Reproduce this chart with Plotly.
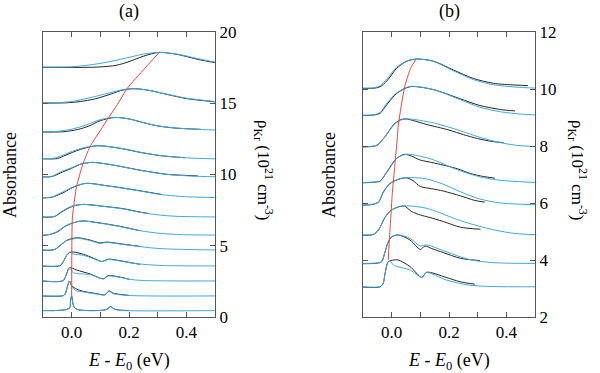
import plotly.graph_objects as go

# ---------------- panel (a): offset spectra, plotted on the rho_Kr scale ----------------
# each curve: (E values, y values), blue = model, black = measured
a_blue = [
    ([-0.1, -0.008, -0.004, 0.0, 0.003, 0.009, 0.023, 0.11, 0.125, 0.136, 0.148, 0.17, 0.5],
     [0.45, 0.61, 1.2, 1.48, 1.08, 0.68, 0.5, 0.47, 0.56, 0.73, 0.56, 0.47, 0.45]),
    ([-0.1, -0.03, -0.023, -0.015, -0.008, 0.0, 0.012, 0.041, 0.087, 0.116, 0.13, 0.145, 0.2, 0.5],
     [1.48, 1.5, 1.6, 2.13, 2.53, 2.15, 1.88, 1.76, 1.61, 1.55, 1.8, 1.64, 1.51, 1.48]),
    ([-0.1, -0.03, -0.017, -0.008, 0.006, 0.064, 0.11, 0.128, 0.169, 0.2, 0.25, 0.5],
     [2.53, 2.56, 3.07, 3.46, 3.11, 2.98, 2.67, 2.88, 2.78, 2.65, 2.56, 2.53]),
    ([-0.1, -0.04, -0.027, -0.017, -0.006, 0.006, 0.041, 0.075, 0.105, 0.128, 0.169, 0.215, 0.26, 0.32, 0.5],
     [3.58, 3.62, 3.97, 4.35, 4.54, 4.42, 4.33, 4.1, 3.89, 4.03, 3.93, 3.77, 3.68, 3.61, 3.58]),
    ([-0.1, -0.06, -0.035, -0.017, 0.0, 0.023, 0.064, 0.099, 0.122, 0.169, 0.238, 0.308, 0.5],
     [4.7, 4.74, 5.13, 5.36, 5.45, 5.53, 5.36, 5.17, 5.23, 5.12, 4.94, 4.8, 4.7]),
    ([-0.1, -0.076, -0.047, -0.023, 0.0, 0.035, 0.099, 0.169, 0.238, 0.308, 0.4, 0.5],
     [5.74, 5.8, 6.04, 6.39, 6.58, 6.74, 6.58, 6.34, 6.06, 5.87, 5.77, 5.75]),
    ([-0.1, -0.06, -0.04, -0.017, 0.006, 0.04, 0.12, 0.18, 0.24, 0.3, 0.36, 0.5],
     [7.02, 7.06, 7.34, 7.62, 7.81, 7.9, 7.74, 7.58, 7.34, 7.17, 7.07, 7.02]),
    ([-0.1, -0.07, -0.03, 0.005, 0.05, 0.12, 0.18, 0.24, 0.31, 0.38, 0.5],
     [8.37, 8.42, 8.78, 9.13, 9.38, 9.21, 9.03, 8.84, 8.6, 8.46, 8.38]),
    ([-0.1, -0.07, -0.04, 0.0, 0.03, 0.07, 0.14, 0.24, 0.33, 0.42, 0.5],
     [9.84, 9.87, 10.17, 10.48, 10.72, 10.85, 10.68, 10.29, 10.01, 9.89, 9.84]),
    ([-0.1, -0.06, -0.02, 0.03, 0.09, 0.17, 0.24, 0.31, 0.4, 0.5],
     [11.12, 11.15, 11.45, 11.82, 12.02, 11.84, 11.56, 11.33, 11.17, 11.1]),
    ([-0.1, -0.05, 0.0, 0.05, 0.1, 0.15, 0.2, 0.25, 0.3, 0.36, 0.43, 0.5],
     [13.0, 13.03, 13.18, 13.47, 13.85, 14.01, 13.9, 13.65, 13.42, 13.27, 13.18, 13.12]),
    ([-0.1, -0.04, 0.0, 0.06, 0.12, 0.17, 0.21, 0.26, 0.33, 0.4, 0.5],
     [15.03, 15.05, 15.12, 15.37, 15.67, 15.92, 16.02, 15.94, 15.65, 15.36, 15.12]),
    ([-0.1, 0.0, 0.06, 0.12, 0.19, 0.25, 0.306, 0.37, 0.44, 0.5],
     [17.54, 17.56, 17.68, 17.87, 18.17, 18.45, 18.57, 18.44, 18.13, 17.89]),
]
a_black = [
    ([-0.1, -0.008, -0.004, 0.0, 0.003, 0.009, 0.023, 0.11, 0.125, 0.136, 0.148, 0.17, 0.2],
     [0.45, 0.61, 1.2, 1.48, 1.08, 0.68, 0.51, 0.48, 0.57, 0.74, 0.57, 0.48, 0.46]),
    ([-0.1, -0.03, -0.023, -0.015, -0.008, 0.0, 0.017, 0.041, 0.087, 0.116, 0.13, 0.145, 0.2],
     [1.47, 1.49, 1.6, 2.13, 2.53, 2.2, 1.96, 1.8, 1.64, 1.56, 1.83, 1.67, 1.52]),
    ([-0.1, -0.03, -0.017, -0.008, 0.017, 0.064, 0.11, 0.128, 0.169, 0.2],
     [2.52, 2.55, 3.07, 3.46, 3.3, 3.02, 2.68, 2.9, 2.8, 2.65]),
    ([-0.1, -0.04, -0.027, -0.017, -0.006, 0.006, 0.041, 0.075, 0.105, 0.128, 0.169, 0.215, 0.238],
     [3.57, 3.61, 3.97, 4.35, 4.54, 4.56, 4.4, 4.14, 3.9, 4.06, 3.95, 3.78, 3.7]),
    ([-0.1, -0.06, -0.035, -0.017, 0.0, 0.023, 0.064, 0.099, 0.122, 0.169, 0.24],
     [4.69, 4.73, 5.1, 5.38, 5.5, 5.56, 5.4, 5.2, 5.26, 5.14, 4.95]),
    ([-0.1, -0.076, -0.047, -0.023, 0.0, 0.035, 0.099, 0.169, 0.238],
     [5.73, 5.79, 6.0, 6.36, 6.57, 6.74, 6.6, 6.36, 6.06]),
    ([-0.1, -0.06, -0.04, -0.017, 0.006, 0.04, 0.12, 0.18, 0.24, 0.27],
     [7.01, 7.05, 7.3, 7.58, 7.79, 7.9, 7.75, 7.6, 7.36, 7.26]),
    ([-0.1, -0.07, -0.03, 0.005, 0.05, 0.12, 0.18, 0.24, 0.314],
     [8.36, 8.4, 8.72, 9.1, 9.38, 9.22, 9.05, 8.85, 8.6]),
    ([-0.1, -0.07, -0.04, 0.0, 0.03, 0.07, 0.14, 0.24, 0.33, 0.44],
     [9.83, 9.85, 10.1, 10.44, 10.71, 10.85, 10.68, 10.3, 10.02, 9.9]),
    ([-0.1, -0.05, -0.02, 0.03, 0.09, 0.17, 0.24, 0.31, 0.395],
     [11.1, 11.12, 11.36, 11.76, 12.02, 11.83, 11.55, 11.32, 11.18]),
    ([-0.1, -0.03, 0.02, 0.06, 0.1, 0.15, 0.2, 0.25, 0.3, 0.36, 0.45],
     [12.98, 13.0, 13.15, 13.4, 13.78, 14.0, 13.9, 13.64, 13.41, 13.26, 13.17]),
    ([-0.1, -0.02, 0.03, 0.08, 0.13, 0.17, 0.21, 0.26, 0.33, 0.4, 0.5],
     [15.01, 15.03, 15.12, 15.3, 15.6, 15.88, 16.02, 15.94, 15.63, 15.33, 15.1]),
    ([-0.1, 0.06, 0.1, 0.155, 0.2, 0.25, 0.306, 0.37, 0.44, 0.5],
     [17.52, 17.52, 17.55, 17.66, 17.92, 18.3, 18.57, 18.42, 18.08, 17.85]),
]
a_red_E = [0.0, 0.002, 0.006, 0.017, 0.038, 0.064, 0.11, 0.128, 0.163, 0.192, 0.256, 0.306]
a_red_rho = [1.48, 6.8, 7.62, 9.14, 10.66, 11.95, 13.4, 13.96, 15.02, 16.0, 17.47, 18.57]

# ---------------- panel (b) ----------------
b_blue = [
    ([-0.1, -0.04, -0.029, -0.023, -0.012, -0.004, 0.006, 0.064, 0.105, 0.122, 0.19, 0.27, 0.35, 0.5],
     [3.06, 3.07, 3.2, 3.53, 3.94, 3.96, 3.82, 3.65, 3.39, 3.56, 3.3, 3.12, 3.07, 3.06]),
    ([-0.1, -0.05, -0.035, -0.023, -0.012, 0.0, 0.023, 0.064, 0.1, 0.122, 0.19, 0.27, 0.35, 0.5],
     [3.88, 3.9, 3.95, 4.29, 4.64, 4.82, 4.88, 4.76, 4.49, 4.53, 4.29, 4.02, 3.91, 3.88]),
    ([-0.1, -0.065, -0.046, -0.023, 0.0, 0.03, 0.06, 0.12, 0.17, 0.2, 0.24, 0.3, 0.36, 0.43, 0.5],
     [4.88, 4.9, 5.05, 5.5, 5.75, 5.88, 5.9, 5.82, 5.65, 5.53, 5.38, 5.2, 5.05, 4.93, 4.89]),
    ([-0.1, -0.065, -0.045, -0.029, -0.006, 0.03, 0.07, 0.12, 0.18, 0.238, 0.308, 0.38, 0.5],
     [5.94, 5.96, 6.05, 6.4, 6.69, 6.86, 6.89, 6.85, 6.66, 6.4, 6.14, 6.0, 5.94]),
    ([-0.1, -0.06, -0.04, -0.017, 0.017, 0.052, 0.1, 0.15, 0.215, 0.26, 0.308, 0.36, 0.41, 0.5],
     [6.72, 6.74, 6.78, 7.1, 7.57, 7.71, 7.64, 7.5, 7.22, 7.06, 6.92, 6.82, 6.77, 6.72]),
    ([-0.1, -0.07, -0.05, -0.023, 0.006, 0.03, 0.055, 0.1, 0.15, 0.2, 0.25, 0.3, 0.36, 0.43, 0.5],
     [7.98, 7.99, 8.04, 8.33, 8.72, 8.9, 8.95, 8.9, 8.8, 8.66, 8.5, 8.33, 8.16, 8.03, 7.98]),
    ([-0.1, -0.06, -0.04, -0.017, 0.017, 0.064, 0.145, 0.238, 0.308, 0.38, 0.45, 0.5],
     [9.08, 9.1, 9.18, 9.5, 9.86, 10.09, 9.98, 9.63, 9.36, 9.2, 9.12, 9.09]),
    ([-0.1, -0.06, -0.04, -0.017, 0.017, 0.052, 0.087, 0.145, 0.215, 0.285, 0.355, 0.43, 0.5],
     [10.03, 10.05, 10.12, 10.35, 10.76, 10.98, 11.05, 10.97, 10.64, 10.33, 10.15, 10.07, 10.03]),
]
b_black = [
    ([-0.1, -0.04, -0.029, -0.023, -0.012, 0.006, 0.023, 0.064, 0.105, 0.122, 0.19, 0.238, 0.29],
     [3.05, 3.06, 3.2, 3.53, 3.94, 4.0, 4.0, 3.77, 3.39, 3.57, 3.39, 3.24, 3.15]),
    ([-0.1, -0.05, -0.035, -0.023, -0.012, 0.0, 0.023, 0.064, 0.1, 0.116, 0.14, 0.18, 0.24, 0.308],
     [3.87, 3.89, 3.94, 4.28, 4.63, 4.81, 4.88, 4.7, 4.37, 4.49, 4.4, 4.26, 4.06, 3.98]),
    ([-0.1, -0.065, -0.046, -0.023, 0.0, 0.03, 0.045, 0.07, 0.1, 0.13, 0.18, 0.24, 0.31],
     [4.87, 4.89, 5.05, 5.5, 5.76, 5.88, 5.89, 5.7, 5.58, 5.5, 5.35, 5.15, 5.08]),
    ([-0.1, -0.065, -0.045, -0.029, -0.006, 0.03, 0.052, 0.075, 0.1, 0.14, 0.18, 0.24, 0.29, 0.325],
     [5.93, 5.95, 6.04, 6.38, 6.68, 6.85, 6.88, 6.78, 6.58, 6.5, 6.42, 6.25, 6.09, 6.03]),
    ([-0.1, -0.06, -0.04, -0.017, 0.017, 0.045, 0.07, 0.099, 0.14, 0.18, 0.23, 0.273, 0.32, 0.36],
     [6.71, 6.73, 6.77, 7.08, 7.56, 7.71, 7.64, 7.51, 7.42, 7.33, 7.2, 7.04, 6.93, 6.87]),
    ([-0.1, -0.07, -0.05, -0.023, 0.006, 0.03, 0.05, 0.08, 0.12, 0.2, 0.25, 0.3, 0.35, 0.39],
     [7.97, 7.98, 8.03, 8.33, 8.74, 8.92, 8.95, 8.88, 8.76, 8.56, 8.4, 8.26, 8.16, 8.12]),
    ([-0.1, -0.06, -0.04, -0.017, 0.017, 0.064, 0.145, 0.238, 0.308, 0.38, 0.43],
     [9.07, 9.09, 9.15, 9.45, 9.84, 10.08, 9.98, 9.66, 9.42, 9.28, 9.23]),
    ([-0.1, -0.06, -0.04, -0.017, 0.017, 0.052, 0.087, 0.145, 0.215, 0.285, 0.355, 0.43, 0.475],
     [10.02, 10.03, 10.08, 10.28, 10.72, 10.97, 11.05, 10.98, 10.67, 10.37, 10.2, 10.14, 10.12]),
]
b_red_E = [-0.012, -0.007, -0.003, 0.002, 0.01, 0.018, 0.023, 0.03, 0.046, 0.065, 0.085]
b_red_rho = [4.0, 4.9, 5.5, 6.3, 7.2, 8.1, 8.7, 9.2, 10.1, 10.7, 11.05]

x_ticks = [0.0, 0.1, 0.2, 0.3, 0.4]
x_ticktext = ["0.0", "", "0.2", "", "0.4"]
a_yticks = [0, 5, 10, 15, 20]
b_yticks = [2, 4, 6, 8, 10, 12]

BLUE = "#41a9dc"
BLACK = "#262626"
RED = "#e8453c"
FONT = "Liberation Serif"

fig = go.Figure()


def add_panel(blue, black, red_E, red_rho, xa, ya):
    for E, y in black:
        fig.add_trace(go.Scatter(x=E, y=y, mode="lines", xaxis=xa, yaxis=ya,
                                 line=dict(color=BLACK, width=1, shape="spline", smoothing=0.8),
                                 hoverinfo="skip"))
    for E, y in blue:
        fig.add_trace(go.Scatter(x=E, y=y, mode="lines", xaxis=xa, yaxis=ya,
                                 line=dict(color=BLUE, width=1, shape="spline", smoothing=0.8),
                                 hoverinfo="skip"))
    fig.add_trace(go.Scatter(x=red_E, y=red_rho, mode="lines", xaxis=xa, yaxis=ya,
                             line=dict(color=RED, width=1, shape="spline", smoothing=0.6),
                             hoverinfo="skip"))


add_panel(a_blue, a_black, a_red_E, a_red_rho, "x", "y")
add_panel(b_blue, b_black, b_red_E, b_red_rho, "x2", "y2")

y_dom = [56 / 373, 341 / 373]
common_x = dict(range=[-0.1, 0.5], tickvals=x_ticks, ticktext=x_ticktext, ticks="inside",
                ticklen=5, tickcolor="#555", showline=True, linecolor="#555", linewidth=1,
                mirror="ticks", showgrid=False, zeroline=False, automargin=False,
                tickfont=dict(family=FONT, size=17, color="black"))
common_y = dict(side="right", ticks="inside", ticklen=5, tickcolor="#555", showline=True,
                linecolor="#555", linewidth=1, mirror="ticks", showgrid=False, zeroline=False,
                automargin=False, tickfont=dict(family=FONT, size=17, color="black"),
                domain=y_dom)

fig.update_layout(
    width=600, height=373,
    margin=dict(l=0, r=0, t=0, b=0),
    paper_bgcolor="white", plot_bgcolor="white",
    showlegend=False,
    font=dict(family=FONT, color="black"),
    xaxis=dict(domain=[43 / 600, 215 / 600], anchor="y", **common_x),
    yaxis=dict(range=[0, 20], tickvals=a_yticks, anchor="x", **common_y),
    xaxis2=dict(domain=[363 / 600, 535 / 600], anchor="y2", **common_x),
    yaxis2=dict(range=[2, 12], tickvals=b_yticks, anchor="x2", **common_y),
)

ann_font = dict(family=FONT, size=18, color="black")
rho_font = dict(family=FONT, size=17, color="black")
rho_title = "ρ<sub>Kr</sub> (10<sup>21</sup> cm<sup>-3</sup>)"
e_title = "<i>E</i> - <i>E</i><sub>0</sub> (eV)"
for cx, lbl, absx, rhox in [(129, "(a)", 10, 264), (449, "(b)", 329, 578)]:
    fig.add_annotation(x=cx / 600, y=1 - 11 / 373, xref="paper", yref="paper", text=lbl,
                       showarrow=False, font=ann_font, xanchor="center", yanchor="middle")
    fig.add_annotation(x=cx / 600, y=(373 - 361) / 373, xref="paper", yref="paper", text=e_title,
                       showarrow=False, font=ann_font, xanchor="center", yanchor="middle")
    fig.add_annotation(x=absx / 600, y=(373 - 175) / 373, xref="paper", yref="paper",
                       text="Absorbance", textangle=-90, showarrow=False, font=ann_font,
                       xanchor="center", yanchor="middle")
    fig.add_annotation(x=rhox / 600, y=(373 - 170) / 373, xref="paper", yref="paper",
                       text=rho_title, textangle=90, showarrow=False, font=rho_font,
                       xanchor="center", yanchor="middle")

# the page's default body margin would shift the figure by 8 px
fig.write_html("out.html", config={"displayModeBar": False},
               post_script="document.body.style.margin = '0';")
